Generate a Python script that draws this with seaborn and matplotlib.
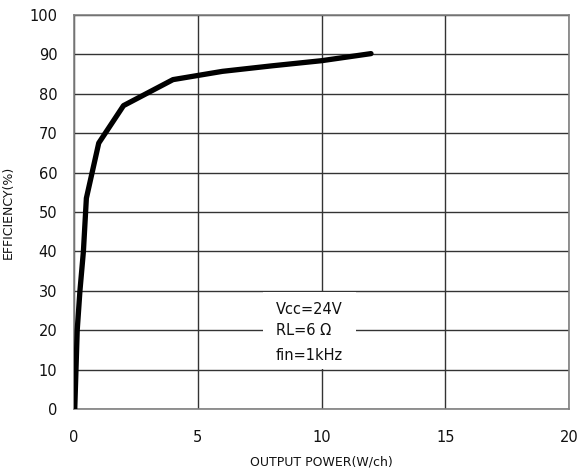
import matplotlib
matplotlib.use("Agg")
import matplotlib.pyplot as plt
import seaborn as sns
import pandas as pd
from matplotlib.patches import Rectangle

output_power = [0.03, 0.13, 0.24, 0.38, 0.5, 1.0, 2.0, 4.0, 6.0, 8.0, 10.0, 12.0]
efficiency = [0.0, 20.0, 30.0, 40.0, 53.5, 67.5, 77.0, 83.6, 85.7, 87.1, 88.4, 90.2]
x_ticks = [0, 5, 10, 15, 20]
y_ticks = [0, 10, 20, 30, 40, 50, 60, 70, 80, 90, 100]
condition_lines = ["Vcc=24V", "RL=6 Ω", "fin=1kHz"]

sns.set_theme(style="white")
plt.rcParams['font.family'] = ['DejaVu Sans', 'Noto Sans CJK JP']

df = pd.DataFrame({"power": output_power, "eff": efficiency})

fig = plt.figure(figsize=(5.81, 4.73), dpi=100)
ax = fig.add_axes([74/581, 1 - 409/473, (569-74)/581, (409-15)/473])

ax.set_xlim(0, 20)
ax.set_ylim(0, 100)
ax.set_xticks(x_ticks)
ax.set_yticks(y_ticks)
ax.grid(True, color="#333333", linewidth=1.0)
ax.set_axisbelow(True)

sns.lineplot(data=df, x="power", y="eff", ax=ax, color="black", linewidth=3.8,
             sort=False, solid_capstyle="round", solid_joinstyle="round", zorder=5)

# white box behind the conditions text
ax.add_patch(Rectangle((7.62, 10.2), 3.79, 19.6, facecolor="white", edgecolor="none", zorder=3))
ypos = [25.3, 19.8, 13.6]
for t, yy in zip(condition_lines, ypos):
    ax.text(8.15, yy, t, fontsize=10.5, va="center", ha="left", color="#111111", zorder=4)

for s in ax.spines.values():
    s.set_color("#808080")
    s.set_linewidth(1.2)

ax.tick_params(axis="both", length=0, labelsize=10.5, colors="#111111")
ax.tick_params(axis="x", pad=15)
ax.tick_params(axis="y", pad=12)

ax.set_xlabel("OUTPUT POWER(W/ch)", fontsize=9, labelpad=8, color="#111111")
ax.set_ylabel("EFFICIENCY(%)", fontsize=9, color="#111111")
ax.yaxis.set_label_coords(-0.12, 0.5)

fig.savefig("out.png", dpi=100)
